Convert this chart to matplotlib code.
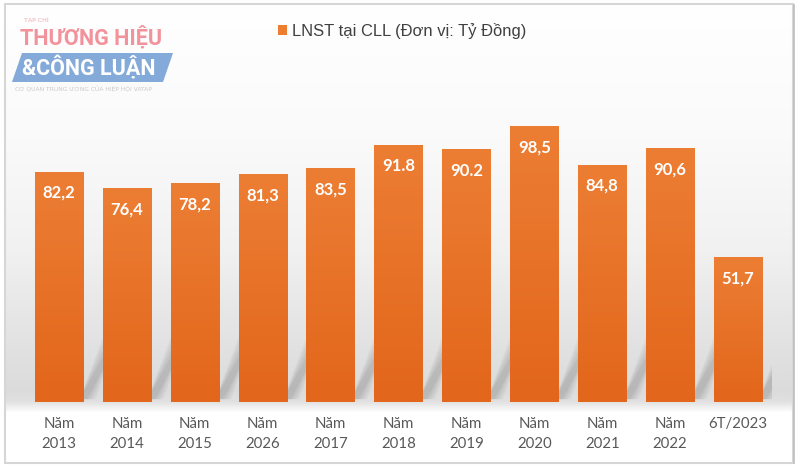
import numpy as np
import matplotlib
matplotlib.use("Agg")
import matplotlib.pyplot as plt
from matplotlib.colors import LinearSegmentedColormap
from matplotlib.patches import Rectangle, Polygon

categories = ["Năm\n2013", "Năm\n2014", "Năm\n2015", "Năm\n2026", "Năm\n2017",
              "Năm\n2018", "Năm\n2019", "Năm\n2020", "Năm\n2021", "Năm\n2022", "6T/2023"]
values = [82.2, 76.4, 78.2, 81.3, 83.5, 91.8, 90.2, 98.5, 84.8, 90.6, 51.7]
value_labels = ["82,2", "76,4", "78,2", "81,3", "83,5", "91.8", "90.2", "98,5", "84,8", "90,6", "51,7"]
series_name = "LNST tại CLL (Đơn vị: Tỷ Đồng)"

W, H = 800, 470
fig = plt.figure(figsize=(W / 100, H / 100), dpi=100)
fig.patch.set_facecolor("white")

# background gradient
bg = fig.add_axes([0, 0, 1, 1], zorder=0)
bg.set_xlim(0, W); bg.set_ylim(H, 0); bg.axis("off")
stops = [(0, 1.0), (140, 0.98), (250, 0.945), (320, 0.90), (390, 0.86), (401, 0.88), (412, 1.0), (470, 1.0)]
ys = np.arange(H)
vals = np.interp(ys, [s[0] for s in stops], [s[1] for s in stops])
img = np.repeat(vals[:, None], 4, axis=1)
img = np.dstack([img, img, img])
bg.imshow(img, extent=[5, 793, H, 0], aspect="auto", interpolation="bilinear", zorder=0)
bg.add_patch(Rectangle((5, 4), 788, 459, fill=False, edgecolor="#d6d6d6", lw=1.5, zorder=5))
bg.plot([793.5, 793.5], [5, 463], color="#bdbdbd", lw=1.2, zorder=5)

# logo (watermark)
bg.text(24, 19, "TẠP CHÍ", fontsize=4.5, color="#f3a7ae", family="DejaVu Sans", va="center", zorder=6)
bg.text(20, 38, "THƯƠNG HIỆU", fontsize=15.5, fontweight="bold", color="#f2939c",
        family=["Liberation Sans Narrow", "Roboto"], va="center", zorder=6)
bg.add_patch(Polygon([(22, 53), (173, 53), (163, 82), (12, 82)], closed=True,
                     facecolor="#83aad8", edgecolor="none", zorder=6))
bg.text(89, 68, "&CÔNG LUẬN", fontsize=15.5, fontweight="bold", color="white",
        family=["Liberation Sans Narrow", "Roboto"], va="center", ha="center", zorder=7)
bg.text(15, 89, "CƠ QUAN TRUNG ƯƠNG CỦA HIỆP HỘI VATAP", fontsize=4.3, color="#c8c8c8",
        family="DejaVu Sans", va="center", zorder=6)

# main axes
left_px, right_px, base_px = 25, 772, 402
ppu = 2.80
top_px = base_px - 100 * ppu
ax = fig.add_axes([left_px / W, (H - base_px) / H, (right_px - left_px) / W, (base_px - top_px) / H], zorder=2)
ax.patch.set_alpha(0)
x = np.arange(len(values))
ax.set_xlim(-0.5, len(values) - 0.5)
ax.set_ylim(0, 100)

# soft diagonal shadows behind bars
bw = 0.71
for xi in x:
    xr = xi + bw / 2
    for k, a in enumerate([0.07, 0.07, 0.08, 0.09]):
        d = 0.04 * k
        ax.add_patch(Polygon([(xr - 0.05, 1), (xr + 0.18 - d, 1), (xr + 0.62 - d, 30 - 3 * k), (xr + 0.40, 30 - 3 * k)],
                             closed=True, facecolor="#606060", edgecolor="none", alpha=a, zorder=1))

bars = ax.bar(x, values, width=bw, color="#ED7D31", zorder=2, label=series_name)
cmap = LinearSegmentedColormap.from_list("og", ["#E2661B", "#EC7E34"])
grad = np.linspace(0, 1, 256)[:, None]
for b in bars:
    im = ax.imshow(grad, extent=[b.get_x(), b.get_x() + b.get_width(), 0, b.get_height()],
                   origin="lower", cmap=cmap, aspect="auto", zorder=3, interpolation="bilinear")
    im.set_clip_path(b)

for b, lab in zip(bars, value_labels):
    ax.annotate(lab, (b.get_x() + b.get_width() / 2, b.get_height()), xytext=(0, -15.2),
                textcoords="offset points", ha="center", va="center", color="white",
                fontsize=12, fontweight="bold", family="Lato", zorder=5)

ax.set_xticks(x)
ax.set_xticklabels(categories, fontsize=10.8, color="#595959", family="Lato", linespacing=1.55, va="top")
ax.tick_params(axis="x", length=0, pad=11)
ax.set_yticks([])
for s in ax.spines.values():
    s.set_visible(False)

leg = fig.legend(handles=[bars], labels=[series_name], loc="center", bbox_to_anchor=(402 / W, 1 - 31 / H),
                 frameon=False, handlelength=0.55, handleheight=0.55, handletextpad=0.3,
                 prop={"family": "Liberation Sans", "size": 11.9})
for t in leg.get_texts():
    t.set_color("#404040")

fig.savefig("out.png", dpi=100, facecolor="white")
